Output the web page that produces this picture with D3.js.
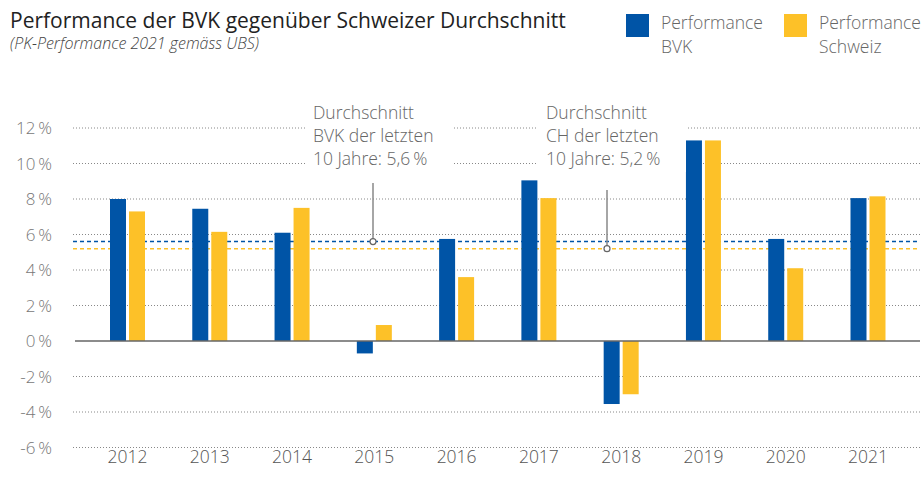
<!DOCTYPE html>
<html>
<head>
<meta charset="utf-8">
<script src="https://cdn.jsdelivr.net/npm/d3@7"></script>
<style>
  body { margin: 0; background: #fff; }
  svg { font-family: "Open Sans", "Noto Sans", sans-serif; }
</style>
</head>
<body>
<svg id="chart" width="923" height="491"></svg>
<script>
const svg = d3.select("#chart");

// Data
const years = ["2012","2013","2014","2015","2016","2017","2018","2019","2020","2021"];
const bvk = [8.0, 7.45, 6.1, -0.7, 5.75, 9.05, -3.55, 11.3, 5.75, 8.05];
const schweiz = [7.3, 6.15, 7.5, 0.9, 3.6, 8.05, -3.0, 11.3, 4.1, 8.15];
const yTicks = [12, 10, 8, 6, 4, 2, 0, -2, -4, -6];
const avgBvk = 5.6;
const avgCh = 5.2;

const blue = "#0054a6";
const yellow = "#fdc128";

// Scales
const y = d3.scaleLinear().domain([-6, 12]).range([447.5, 128]);
const x = d3.scalePoint().domain(years).range([127.5, 868]);
const xSub = d3.scaleBand().domain(["bvk", "ch"]).range([-17.5, 17.5]).paddingInner(0.158);

// Title
svg.append("text").attr("x", 10).attr("y", 28)
  .attr("font-size", 21).attr("fill", "#222")
  .text("Performance der BVK gegenüber Schweizer Durchschnitt");
svg.append("text").attr("x", 10).attr("y", 49)
  .attr("font-size", 16).attr("font-style", "italic").attr("fill", "#444")
  .attr("font-weight", 300)
  .text("(PK-Performance 2021 gemäss UBS)");

// Legend
const legend = [
  { name: "BVK", color: blue, x: 626 },
  { name: "Schweiz", color: yellow, x: 784 }
];
const lg = svg.append("g").selectAll("g").data(legend).join("g")
  .attr("transform", d => `translate(${d.x},14)`);
lg.append("rect").attr("width", 23).attr("height", 23).attr("fill", d => d.color);
lg.append("text").attr("x", 35).attr("y", 15).attr("font-size", 17.5).attr("fill", "#666")
  .attr("font-weight", 300)
  .text("Performance");
lg.append("text").attr("x", 35).attr("y", 39).attr("font-size", 17.5).attr("fill", "#666")
  .attr("font-weight", 300)
  .text(d => d.name);

// Gridlines
svg.append("g").selectAll("line")
  .data(yTicks.filter(d => d !== 0))
  .join("line")
  .attr("x1", 73).attr("x2", 920)
  .attr("y1", d => y(d)).attr("y2", d => y(d))
  .attr("stroke", "#888").attr("stroke-width", 1)
  .attr("stroke-dasharray", "1,2");

// Y labels
svg.append("g").selectAll("text")
  .data(yTicks)
  .join("text")
  .attr("x", 52).attr("y", d => y(d) + 6)
  .attr("text-anchor", "end")
  .attr("font-size", 17).attr("fill", "#777").attr("font-weight", 300)
  .text(d => d + "\u2009%");

// Average lines
const avgs = [
  { v: avgBvk, color: blue },
  { v: avgCh, color: yellow }
];
svg.append("g").selectAll("line")
  .data(avgs)
  .join("line")
  .attr("x1", 73).attr("x2", 920)
  .attr("y1", d => y(d.v)).attr("y2", d => y(d.v))
  .attr("stroke", d => d.color).attr("stroke-width", 1.5)
  .attr("stroke-dasharray", "4,3");

// Bars
const rows = years.map((yr, i) => ({ year: yr, bvk: bvk[i], ch: schweiz[i] }));
const groups = svg.append("g").selectAll("g").data(rows).join("g")
  .attr("transform", d => `translate(${x(d.year)},0)`);
groups.selectAll("rect")
  .data(d => [{ key: "bvk", v: d.bvk }, { key: "ch", v: d.ch }])
  .join("rect")
  .attr("x", d => xSub(d.key))
  .attr("width", xSub.bandwidth())
  .attr("y", d => y(Math.max(0, d.v)))
  .attr("height", d => Math.abs(y(d.v) - y(0)))
  .attr("fill", d => d.key === "bvk" ? blue : yellow);

// Zero line
svg.append("line")
  .attr("x1", 75).attr("x2", 920)
  .attr("y1", y(0)).attr("y2", y(0))
  .attr("stroke", "#666").attr("stroke-width", 1.5);

// X labels
svg.append("g").selectAll("text")
  .data(years)
  .join("text")
  .attr("x", d => x(d)).attr("y", 463)
  .attr("text-anchor", "middle")
  .attr("font-size", 17.5).attr("fill", "#555").attr("font-weight", 300)
  .text(d => d);

// Annotations
const notes = [
  { lines: ["Durchschnitt", "BVK der letzten", "10 Jahre: 5,6\u2009%"], tx: 313, lx: 373, ly: 183, v: avgBvk },
  { lines: ["Durchschnitt", "CH der letzten", "10 Jahre: 5,2\u2009%"], tx: 546, lx: 607, ly: 190, v: avgCh }
];
const ann = svg.append("g").selectAll("g").data(notes).join("g");
ann.append("rect")
  .attr("x", d => d.tx - 8).attr("y", 100)
  .attr("width", 148).attr("height", 72)
  .attr("fill", "#fff");
ann.selectAll("text")
  .data(d => d.lines.map((t, i) => ({ t, i, tx: d.tx })))
  .join("text")
  .attr("x", d => d.tx).attr("y", d => 119 + d.i * 23)
  .attr("font-size", 17.5).attr("fill", "#666").attr("font-weight", 300)
  .text(d => d.t);
ann.append("line")
  .attr("x1", d => d.lx).attr("x2", d => d.lx)
  .attr("y1", d => d.ly).attr("y2", d => y(d.v))
  .attr("stroke", "#888").attr("stroke-width", 1.5);
ann.append("circle")
  .attr("cx", d => d.lx).attr("cy", d => y(d.v)).attr("r", 3)
  .attr("fill", "#fff").attr("stroke", "#666").attr("stroke-width", 1.2);
</script>
</body>
</html>
